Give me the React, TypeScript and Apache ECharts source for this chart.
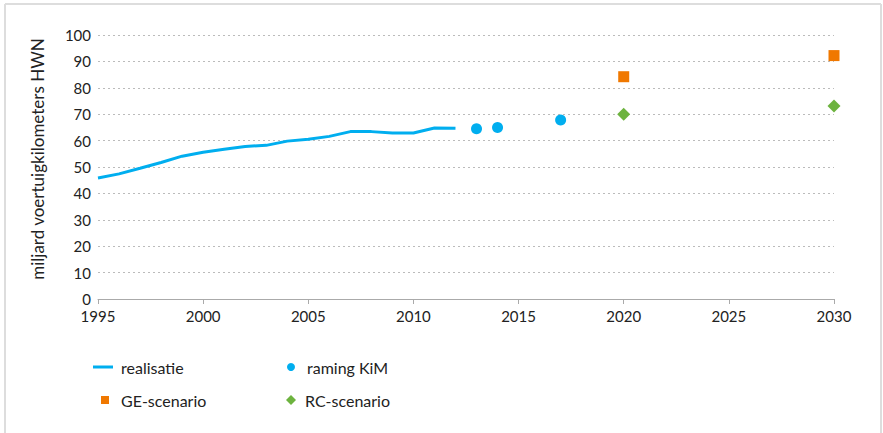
import React, { useEffect, useRef } from "react";
import * as echarts from "echarts";

const realisatieYears = [1995, 1996, 1997, 1998, 1999, 2000, 2001, 2002, 2003, 2004, 2005, 2006, 2007, 2008, 2009, 2010, 2011, 2012];
const realisatieValues = [45.8, 47.4, 49.5, 51.7, 54.1, 55.6, 56.7, 57.8, 58.2, 59.8, 60.5, 61.6, 63.4, 63.4, 62.9, 62.9, 64.8, 64.7];
const ramingYears = [2013, 2014, 2017];
const ramingValues = [64.5, 65.0, 67.8];
const geYears = [2020, 2030];
const geValues = [84.2, 92.2];
const rcYears = [2020, 2030];
const rcValues = [70.0, 73.1];
const xTicks = { min: 1995, max: 2030, interval: 5 };
const yTicks = { min: 0, max: 100, interval: 10 };

const BLUE = "#00AEEF";
const ORANGE = "#F07800";
const GREEN = "#6DB33F";
const FONT = "Lato";

export default function App() {
  const ref = useRef<HTMLDivElement>(null);
  useEffect(() => {
    const chart = echarts.init(ref.current!, null, { renderer: "svg" });
    const zip = (xs: number[], ys: number[]) => xs.map((x, i) => [x, ys[i]]);
    const legendText = (pad: number) => ({
      fontFamily: FONT,
      fontSize: 16,
      color: "#222",
      padding: [0, 0, 0, pad],
    });
    chart.setOption({
      animation: false,
      backgroundColor: "#fff",
      grid: { left: 98, right: 49, top: 35, bottom: 134, containLabel: false },
      xAxis: {
        type: "value",
        min: xTicks.min,
        max: xTicks.max,
        interval: xTicks.interval,
        axisLine: { show: true, lineStyle: { color: "#aaa", width: 1 } },
        axisTick: { show: true, length: 5, lineStyle: { color: "#aaa" } },
        axisLabel: {
          fontFamily: FONT,
          fontSize: 15,
          color: "#222",
          margin: 9,
          formatter: (v: number) => String(v),
        },
        splitLine: { show: false },
      },
      yAxis: {
        type: "value",
        min: yTicks.min,
        max: yTicks.max,
        interval: yTicks.interval,
        name: "miljard voertuigkilometers HWN",
        nameLocation: "middle",
        nameGap: 52,
        nameTextStyle: { fontFamily: FONT, fontSize: 17, color: "#222", padding: [0, 0, 0, 16] },
        axisLine: { show: false },
        axisTick: { show: false },
        axisLabel: { fontFamily: FONT, fontSize: 15, color: "#222", margin: 7, lineHeight: 15 },
        splitLine: { show: true, lineStyle: { color: "#bbb", type: [2, 3], width: 1 } },
      },
      legend: [
        {
          left: 93, top: 359, padding: 0, itemWidth: 20, itemHeight: 3,
          data: [{ name: "realisatie", icon: "rect" }], textStyle: legendText(3),
        },
        {
          left: 287, top: 359, padding: 0, itemWidth: 8, itemHeight: 8,
          data: [{ name: "raming KiM", icon: "circle" }], textStyle: legendText(7),
        },
        {
          left: 101, top: 392, padding: 0, itemWidth: 8, itemHeight: 8,
          data: [{ name: "GE-scenario", icon: "rect" }], textStyle: legendText(7),
        },
        {
          left: 286, top: 392, padding: 0, itemWidth: 10, itemHeight: 10,
          data: [{ name: "RC-scenario", icon: "diamond" }], textStyle: legendText(4),
        },
      ],
      graphic: [
        { type: "line", shape: { x1: 5, y1: 4, x2: 881, y2: 4 }, style: { stroke: "#ddd", lineWidth: 2 } },
        { type: "line", shape: { x1: 5, y1: 4, x2: 5, y2: 433 }, style: { stroke: "#ddd", lineWidth: 2 } },
        { type: "line", shape: { x1: 881, y1: 4, x2: 881, y2: 433 }, style: { stroke: "#ddd", lineWidth: 2 } },
      ],
      series: [
        {
          name: "realisatie",
          type: "line",
          data: zip(realisatieYears, realisatieValues),
          showSymbol: false,
          symbol: "none",
          lineStyle: { color: BLUE, width: 3 },
          itemStyle: { color: BLUE },
        },
        {
          name: "raming KiM",
          type: "scatter",
          data: zip(ramingYears, ramingValues),
          symbol: "circle",
          symbolSize: 11,
          itemStyle: { color: BLUE, opacity: 1 },
        },
        {
          name: "GE-scenario",
          type: "scatter",
          data: zip(geYears, geValues),
          symbol: "rect",
          symbolSize: 11,
          itemStyle: { color: ORANGE, opacity: 1 },
        },
        {
          name: "RC-scenario",
          type: "scatter",
          data: zip(rcYears, rcValues),
          symbol: "diamond",
          symbolSize: 13,
          itemStyle: { color: GREEN, opacity: 1 },
        },
      ],
    });
    return () => chart.dispose();
  }, []);
  return (
    <div
      ref={ref}
      style={{ position: "fixed", left: 0, top: 0, width: 883, height: 433 }}
    />
  );
}
